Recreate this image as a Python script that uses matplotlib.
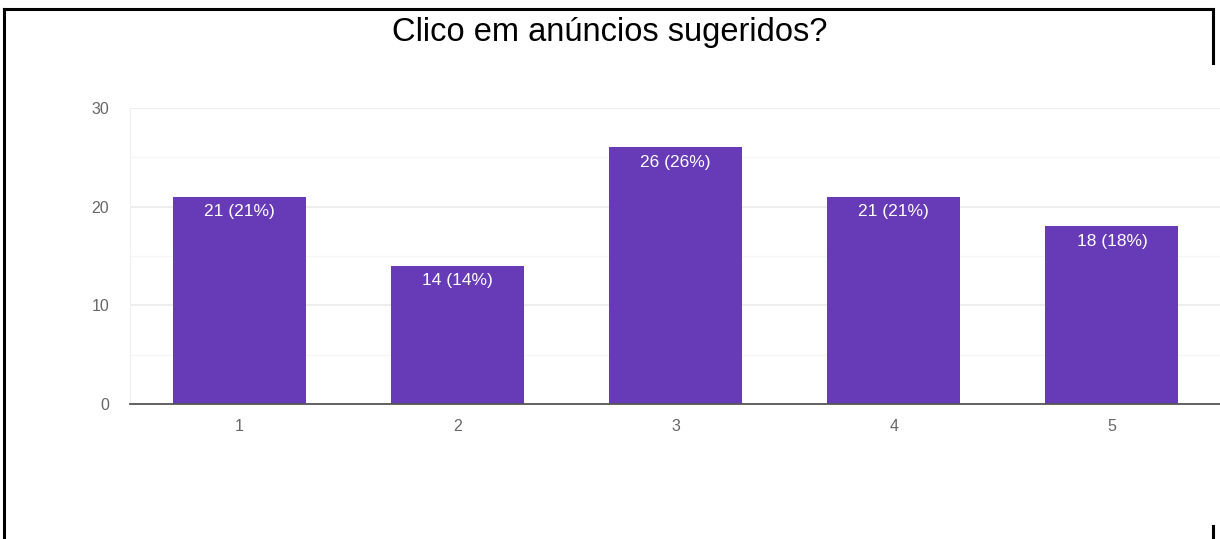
import matplotlib.pyplot as plt
from matplotlib.lines import Line2D

plt.rcParams['font.family'] = ['Liberation Sans', 'DejaVu Sans']

categories = ['1', '2', '3', '4', '5']
counts = [21, 14, 26, 21, 18]
percents = [21, 14, 26, 21, 18]
title = 'Clico em anúncios sugeridos?'

fig = plt.figure(figsize=(12.2, 5.39), dpi=100)
ax = fig.add_axes([130 / 1220, 1 - 404 / 539, 1091 / 1220, (404 - 108) / 539])

x = range(len(categories))
bars = ax.bar(x, counts, width=0.61, color='#673ab7', zorder=3)

for b, c, p in zip(bars, counts, percents):
    ax.text(b.get_x() + b.get_width() / 2, c - 0.75, f'{c} ({p}%)',
            ha='center', va='top', color='white', fontsize=12.5, zorder=4)

ax.set_xlim(-0.5, len(categories) - 0.5)
ax.set_ylim(0, 30)
ax.set_yticks([0, 10, 20, 30])
ax.set_yticks([5, 15, 25], minor=True)
ax.set_xticks(list(x))
ax.set_xticklabels(categories)
ax.grid(axis='y', which='major', color='#ebebeb', lw=1.2, zorder=0)
ax.grid(axis='y', which='minor', color='#f6f6f6', lw=1.0, zorder=0)
ax.tick_params(axis='both', which='both', length=0, labelsize=11.5,
               colors='#666666', pad=11)
ax.tick_params(axis='y', pad=15)
for s in ['top', 'right']:
    ax.spines[s].set_visible(False)
ax.spines['left'].set_color('#f0f0f0')
ax.spines['bottom'].set_color('#555555')
ax.spines['bottom'].set_linewidth(1.3)
ax.spines['bottom'].set_zorder(5)

fig.text(610 / 1220, 1 - 32 / 539, title, ha='center', va='center',
         fontsize=23.5, color='black')

# page border lines
def fline(xs, ys):
    fig.add_artist(Line2D([v / 1220 for v in xs], [1 - v / 539 for v in ys],
                          color='black', lw=2.2, transform=fig.transFigure))

fline([4, 1213], [9, 9])
fline([4, 4], [9, 539])
fline([1213, 1213], [9, 63])
fline([1213, 1213], [526, 539])

fig.savefig('out.png', dpi=100)
